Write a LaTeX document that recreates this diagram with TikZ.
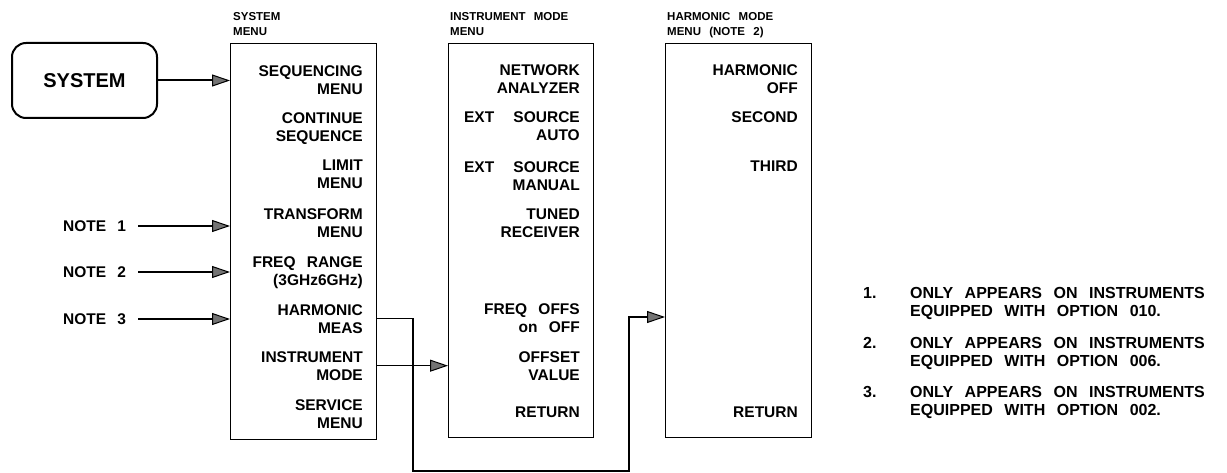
\documentclass[tikz,border=0pt]{standalone}
\usepackage{fontspec}
\setmainfont{Liberation Sans}[WordSpace=2.6]
\usetikzlibrary{arrows.meta}
\begin{document}
\begin{tikzpicture}[x=1pt,y=-1pt,
  menubox/.style={draw, line width=1.3pt, inner sep=0pt, anchor=north west},
  itm/.style={anchor=north east, inner sep=0pt, align=right, font=\bfseries\fontsize{15.5}{18}\selectfont},
  ttl/.style={anchor=north west, inner sep=0pt, align=left, font=\bfseries\fontsize{11.5}{15}\selectfont},
  notelbl/.style={anchor=west, inner sep=0pt, font=\bfseries\fontsize{15.5}{18}\selectfont},
  ntxt/.style={anchor=north west, inner sep=0pt, align=left, font=\bfseries\fontsize{16}{18.5}\selectfont},
  tip/.style={-{Triangle[length=18pt,width=12pt,fill=black!55,line width=1pt]}},
  feed/.style={line width=2pt, tip},
  link/.style={line width=1.3pt},
]
\useasboundingbox (0,0) rectangle (1227,473);

% SYSTEM key
\node[draw, rounded corners=14pt, line width=2pt, minimum width=145pt, minimum height=75pt,
      font=\bfseries\fontsize{20}{24}\selectfont] (sys) at (84.5,80.5) {SYSTEM};

% menu boxes
\node[menubox, minimum width=146pt, minimum height=396pt] (smenu) at (230,43) {};
\node[menubox, minimum width=145pt, minimum height=394pt] (imenu) at (448,43) {};
\node[menubox, minimum width=146pt, minimum height=394pt] (hmenu) at (665,43) {};

% titles
\node[ttl] (tsys) at (233,12) {SYSTEM\\MENU};
\node[ttl] (tins) at (450,12) {INSTRUMENT MODE\\MENU};
\node[ttl] (thar) at (667,12) {HARMONIC MODE\\MENU (NOTE 2)};

% system menu items
\node[itm] (s1) at (363,65) {SEQUENCING\\MENU};
\node[itm] (s2) at (363,112) {CONTINUE\\SEQUENCE};
\node[itm] (s3) at (363,160) {LIMIT\\MENU};
\node[itm] (s4) at (363,208) {TRANSFORM\\MENU};
\node[itm] (s5) at (363,256) {FREQ RANGE\\(3GHz6GHz)};
\node[itm] (s6) at (363,304) {HARMONIC\\MEAS};
\node[itm] (s7) at (363,351) {INSTRUMENT\\MODE};
\node[itm] (s8) at (363,399) {SERVICE\\MENU};

% instrument mode items
\node[itm] (i1) at (580,64) {NETWORK\\ANALYZER};
\node[itm] (i2) at (580,111) {EXT\hspace{8pt} SOURCE\\AUTO};
\node[itm] (i3) at (580,161) {EXT\hspace{8pt} SOURCE\\MANUAL};
\node[itm] (i4) at (580,209) {TUNED\\RECEIVER};
\node[itm] (i5) at (580,303) {FREQ OFFS\\on OFF};
\node[itm] (i6) at (580,351) {OFFSET\\VALUE};
\node[itm] (i7) at (580,407) {RETURN};

% harmonic mode items
\node[itm] (h1) at (798,64) {HARMONIC\\OFF};
\node[itm] (h2) at (798,111) {SECOND};
\node[itm] (h3) at (798,161) {THIRD};
\node[itm] (h4) at (798,407) {RETURN};

% note labels
\node[notelbl] (n1) at (63,226) {NOTE 1};
\node[notelbl] (n2) at (63,272) {NOTE 2};
\node[notelbl] (n3) at (63,319) {NOTE 3};

% notes text
\node[ntxt] (k1) at (863,287) {1.};
\node[ntxt] (k2) at (863,337) {2.};
\node[ntxt] (k3) at (863,386) {3.};
\node[ntxt] (t1) at (910,287) {ONLY APPEARS ON INSTRUMENTS\\EQUIPPED WITH OPTION 010.};
\node[ntxt] (t2) at (910,337) {ONLY APPEARS ON INSTRUMENTS\\EQUIPPED WITH OPTION 006.};
\node[ntxt] (t3) at (910,386) {ONLY APPEARS ON INSTRUMENTS\\EQUIPPED WITH OPTION 002.};

% connectors
\draw[feed] (sys.east) -- (sys.east -| smenu.west);
\draw[feed] ([xshift=12pt]n1.east) -- (n1.east -| smenu.west);
\draw[feed] ([xshift=12pt]n2.east) -- (n2.east -| smenu.west);
\draw[feed] ([xshift=12pt]n3.east) -- (n3.east -| smenu.west);

\coordinate (r1) at (413,471);
\coordinate (r2) at (629,471);
\coordinate (hin) at (665,317);
\draw[link, tip] (s6.east -| smenu.east) -| (r1) -- (r2) |- (hin);
\draw[link, tip] (s7.east -| smenu.east) -- (s7.east -| imenu.west);
\end{tikzpicture}
\end{document}
